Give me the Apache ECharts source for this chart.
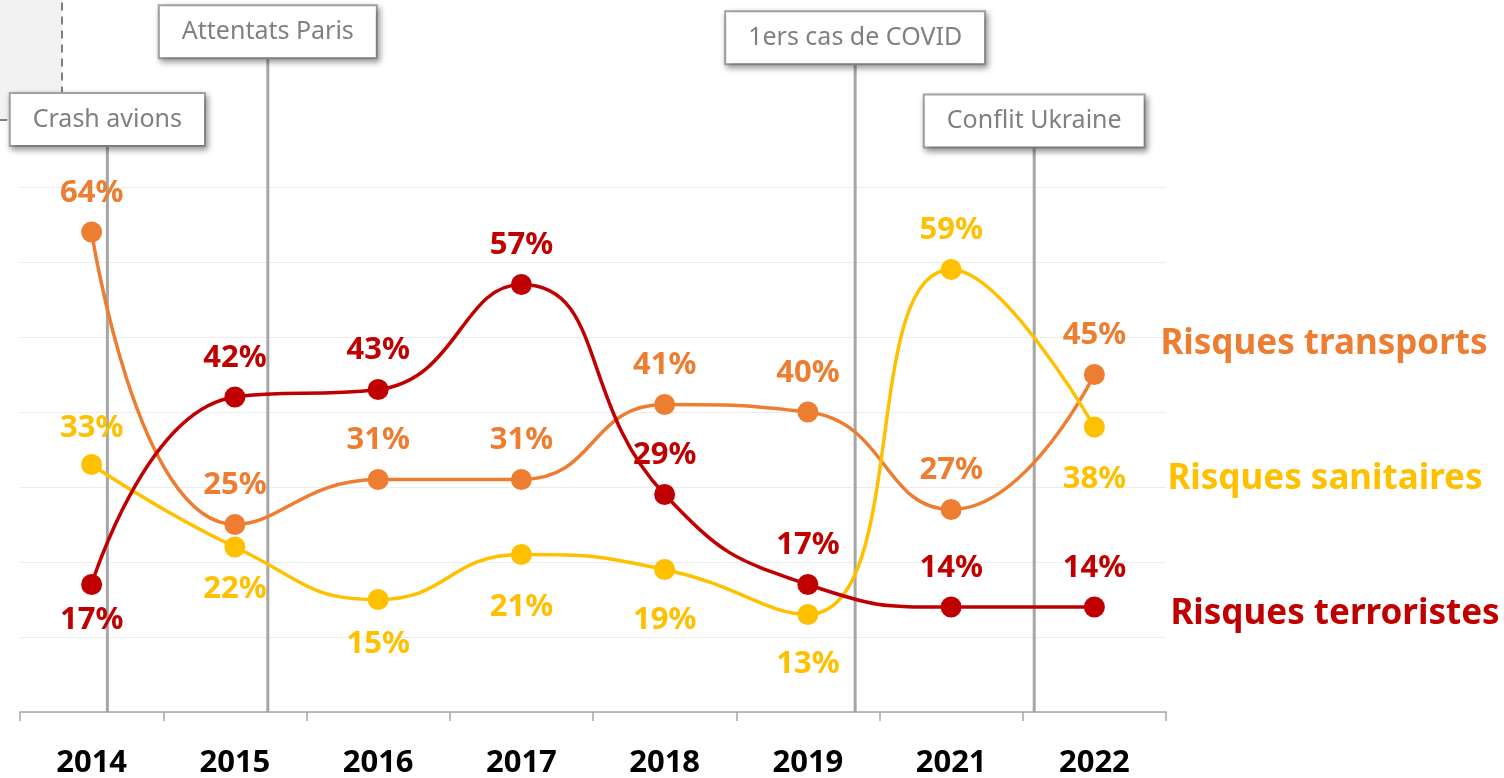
<!DOCTYPE html>
<html>
<head>
<meta charset="utf-8">
<script src="https://cdn.jsdelivr.net/npm/echarts@6/dist/echarts.min.js"></script>
<style>html,body{margin:0;padding:0;background:#fff;}#c{width:1504px;height:778px;}</style>
</head>
<body>
<div id="c"></div>
<script>
const years = ['2014','2015','2016','2017','2018','2019','2021','2022'];
const transports = [64, 25, 31, 31, 41, 40, 27, 45];
const sanitaires = [33, 22, 15, 21, 19, 13, 59, 38];
const terroristes = [17, 42, 43, 57, 29, 17, 14, 14];
const seriesNames = ['Risques transports', 'Risques sanitaires', 'Risques terroristes'];
const eventNames = ['Crash avions', 'Attentats Paris', '1ers cas de COVID', 'Conflit Ukraine'];
const eventPos = [0.11, 1.23, 5.33, 6.58];
const eventLevel = [79, 90.7, 89.9, 78.8];

// label placement (style)
const posTransports = ['top','top','top','top','top','top','top','top'];
const posSanitaires = ['top','bottom','bottom','bottom','bottom','bottom','top','bottom'];
const posTerroristes = ['bottom','top','top','top','top','top','top','top'];
const distTransports = [13, 13, 13, 13, 13, 13, 13, 13];
const distSanitaires = [10, 16, 19, 27, 25, 24, 13, 26];
const distTerroristes = [10, 13, 13, 13, 13, 13, 13, 13];

const FONT = 'Noto Sans';
const chart = echarts.init(document.getElementById('c'), null, {renderer:'canvas'});

function mkSeries(name, vals, pos, dist, color, endOffset) {
  return {
    name: name, type: 'line', smooth: 0.5, z: 3,
    symbol: 'circle', symbolSize: 21,
    lineStyle: {color: color, width: 3.5},
    itemStyle: {color: color},
    label: {show: true, formatter: '{c}%', color: color, fontSize: 31, fontWeight: 'bold', fontFamily: FONT, distance: 13},
    endLabel: {show: true, formatter: name, color: color, fontSize: 35, fontWeight: 'bold', fontFamily: FONT, distance: 0, offset: endOffset, align: 'left'},
    data: vals.map((v, i) => ({value: v, label: {position: pos[i], distance: dist[i]}}))
  };
}

const option = {
  animation: false,
  backgroundColor: '#fff',
  textStyle: {fontFamily: FONT},
  grid: {left: 20, right: 338, top: 187, bottom: 66, containLabel: false, outerBoundsMode: 'none'},
  xAxis: [{
    type: 'category', data: years, boundaryGap: true,
    axisLine: {lineStyle: {color: '#a6a6a6', width: 1.5}},
    axisTick: {show: true, length: 9, lineStyle: {color: '#a6a6a6', width: 1.5}},
    axisLabel: {color: '#000', fontSize: 31, fontWeight: 'bold', fontFamily: FONT, margin: 36},
    splitLine: {show: false}
  }, {
    type: 'value', min: -0.5, max: 7.5, show: false
  }],
  yAxis: {
    type: 'value', min: 0, max: 70, interval: 10,
    axisLine: {show: false}, axisTick: {show: false}, axisLabel: {show: false},
    splitLine: {lineStyle: {color: '#ececec', width: 1}}
  },
  graphic: [{
    type: 'rect', z: 0,
    shape: {x: -10, y: -10, width: 72, height: 130, r: 10},
    style: {fill: '#f2f2f2', stroke: '#7f7f7f', lineWidth: 2, lineDash: [8, 6]}
  }],
  series: [
    {
      type: 'custom', xAxisIndex: 1, yAxisIndex: 0, z: 1, clip: false,
      data: eventPos.map((p, i) => [p, eventLevel[i]]),
      renderItem: function (params, api) {
        const x = api.value(0), lvl = api.value(1);
        const base = api.coord([x, 0]);
        const top = api.coord([x, lvl]);
        return {
          type: 'group', children: [
            {type: 'line', z2: 1, shape: {x1: base[0], y1: top[1] + 26, x2: base[0], y2: base[1]},
             style: {stroke: '#a6a6a6', lineWidth: 3}},
            {type: 'text', z2: 10, x: base[0], y: top[1],
             style: {text: eventNames[params.dataIndex], align: 'center', verticalAlign: 'middle',
                     fontSize: 25, lineHeight: 27, fontFamily: FONT, fill: '#808080',
                     backgroundColor: '#fff', borderColor: '#a6a6a6', borderWidth: 2,
                     padding: [12, 22],
                     shadowBlur: 6, shadowColor: 'rgba(0,0,0,0.35)', shadowOffsetX: 2, shadowOffsetY: 3}}
          ]
        };
      }
    },
    mkSeries(seriesNames[0], transports, posTransports, distTransports, '#ED7D31', [66, -30]),
    mkSeries(seriesNames[1], sanitaires, posSanitaires, distSanitaires, '#FFC000', [73, 52]),
    mkSeries(seriesNames[2], terroristes, posTerroristes, distTerroristes, '#C00000', [76, 7])
  ]
};
chart.setOption(option);
</script>
</body>
</html>
